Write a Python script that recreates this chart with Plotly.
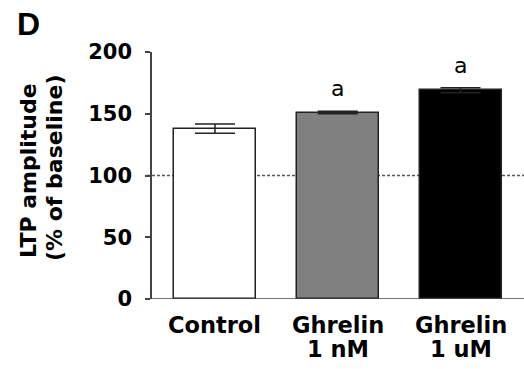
import plotly.graph_objects as go

# ---- data ----
categories = ["Control", "Ghrelin 1 nM", "Ghrelin 1 uM"]
label_line1 = ["Control", "Ghrelin", "Ghrelin"]
label_line2 = ["", "1 nM", "1 uM"]
values = [138, 151, 169]
errors = [3.8, 1.0, 2.0]
sig_marks = ["", "a", "a"]
bar_colors = ["#ffffff", "#808080", "#000000"]
y_ticks = [0, 50, 100, 150, 200]
baseline = 100

W, H = 524, 369
L, R, T, B = 152, 0, 52, 70
PW, PH = W - L - R, H - T - B

def px_x(px):
    return (px - L) / PW

def px_y(py):
    return (H - B - py) / PH

xpos = list(range(len(categories)))

fig = go.Figure()
fig.add_trace(go.Bar(
    x=xpos, y=values, width=0.668,
    marker=dict(color=bar_colors, line=dict(color="#222222", width=1.5)),
    error_y=dict(type="data", array=errors, visible=True, color="#222222",
                 thickness=1.5, width=20),
    showlegend=False,
))

annotations = []
# significance letters
for x, v, e, s in zip(xpos, values, errors, sig_marks):
    if s:
        annotations.append(dict(x=x, y=v + e, xref="x", yref="y", text=s,
                                showarrow=False, yanchor="bottom", yshift=8,
                                font=dict(family="DejaVu Sans", size=22, color="black")))
# x labels (two lines)
for x, l1, l2 in zip(xpos, label_line1, label_line2):
    annotations.append(dict(x=x, y=px_y(325), xref="x", yref="paper", text="<b>%s</b>" % l1,
                            showarrow=False, yanchor="middle",
                            font=dict(family="DejaVu Sans", size=22.5, color="black")))
    if l2:
        annotations.append(dict(x=x, y=px_y(349), xref="x", yref="paper", text="<b>%s</b>" % l2,
                                showarrow=False, yanchor="middle",
                                font=dict(family="DejaVu Sans", size=22.5, color="black")))
# y title lines
annotations.append(dict(x=px_x(28), y=px_y(171), xref="paper", yref="paper",
                        text="<b>LTP amplitude</b>", textangle=-90, showarrow=False,
                        xanchor="center", yanchor="middle",
                        font=dict(family="DejaVu Sans", size=22, color="black")))
annotations.append(dict(x=px_x(54), y=px_y(168), xref="paper", yref="paper",
                        text="<b>(% of baseline)</b>", textangle=-90, showarrow=False,
                        xanchor="center", yanchor="middle",
                        font=dict(family="DejaVu Sans", size=22, color="black")))
# panel letter
annotations.append(dict(x=px_x(28), y=px_y(24), xref="paper", yref="paper",
                        text="<b>D</b>", showarrow=False, xanchor="center", yanchor="middle",
                        font=dict(family="Liberation Sans", size=32, color="black")))

shapes = [
    dict(type="line", xref="paper", yref="y", x0=px_x(147), x1=1, y0=baseline, y1=baseline,
         line=dict(color="#555555", width=1.3, dash="3px,2px"), layer="below"),
    dict(type="line", xref="paper", yref="y", x0=px_x(147), x1=1, y0=0, y1=0,
         line=dict(color="#444444", width=1.5), layer="above"),
]

fig.update_layout(
    width=W, height=H,
    margin=dict(l=L, r=R, t=T, b=B, pad=0),
    paper_bgcolor="white", plot_bgcolor="white",
    bargap=0,
    xaxis=dict(range=[-0.513, 2.517], showline=False, showgrid=False, zeroline=False,
               showticklabels=False, ticks=""),
    yaxis=dict(range=[0, 200], tickvals=y_ticks, showline=True, linecolor="#444444",
               linewidth=1.5, ticks="outside", ticklen=5, tickcolor="#444444", tickwidth=1.5,
               showgrid=False, zeroline=False, ticklabelstandoff=9,
               tickfont=dict(family="DejaVu Sans", size=21, color="black", weight="bold")),
    annotations=annotations,
    shapes=shapes,
)

fig.write_html("out.html", config={"displayModeBar": False},
               post_script="document.body.style.margin='0px';document.body.style.overflow='hidden';")
